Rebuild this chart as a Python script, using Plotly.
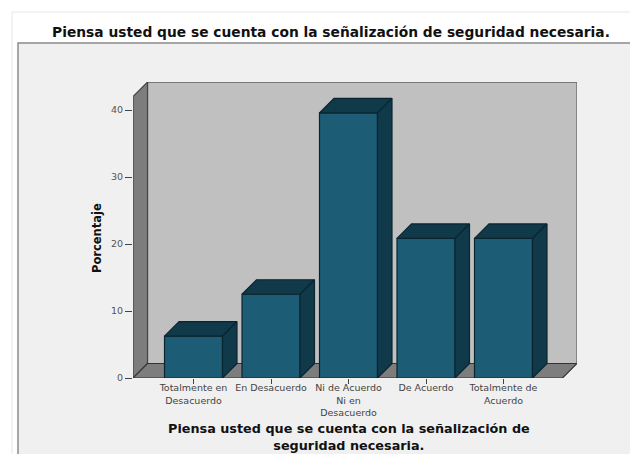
import plotly.graph_objects as go

categories = ["Totalmente en<br>Desacuerdo", "En Desacuerdo", "Ni de Acuerdo<br>Ni en<br>Desacuerdo",
              "De Acuerdo", "Totalmente de<br>Acuerdo"]
values = [6.25, 12.5, 39.58, 20.83, 20.83]
y_ticks = [0, 10, 20, 30, 40]
title_text = "Piensa usted que se cuenta con la señalización de seguridad necesaria."
x_title = "Piensa usted que se cuenta con la señalización de<br>seguridad necesaria."
y_title = "Porcentaje"

OFF = 8  # the page's own body margin
W, H = 638 - OFF, 454 - OFF
L, R, T, B = 133 - OFF, 61, 82 - OFF, 76
pw, ph = W - L - R, H - T - B
PX_X, PX_Y = 77.5, 6.7
x_min, x_max = -60.5 / PX_X, (577 - 193.5) / PX_X
y_max = ph / PX_Y
bar_w = 58 / PX_X
dx, dy = 14.5 / PX_X, 14.5 / PX_Y
wall_top = 42.0

FRONT, DARK, EDGE = "#1c5c74", "#10394a", "#0a2530"
SANS = "DejaVu Sans, Verdana, sans-serif"
xs = list(range(len(values)))


def px(x):
    return (x - OFF - L) / pw


def py(y):
    return (H - B - (y - OFF)) / ph


def poly(points):
    return "M" + "L".join(f"{a},{b}" for a, b in points) + "Z"


shapes = [
    dict(type="rect", xref="paper", yref="paper", x0=px(12), x1=px(660), y0=py(12), y1=py(480),
         fillcolor="#ffffff", line=dict(color="#e6e6e6", width=1), layer="below"),
    dict(type="rect", xref="paper", yref="paper", x0=px(18), x1=px(660), y0=py(43), y1=py(480),
         fillcolor="#f0f0f0", line=dict(color="#8a8a8a", width=1.5), layer="below"),
    dict(type="path", path=poly([(x_min + dx, dy), (x_max, dy), (x_max, wall_top + dy), (x_min + dx, wall_top + dy)]),
         fillcolor="#c0c0c0", line=dict(color="#606060", width=1.2), layer="below"),
    dict(type="path", path=poly([(x_min, 0), (x_min + dx, dy), (x_min + dx, wall_top + dy), (x_min, wall_top)]),
         fillcolor="#7d7d7d", line=dict(color="#444444", width=1.2), layer="below"),
    dict(type="path", path=poly([(x_min, 0), (x_max - dx, 0), (x_max, dy), (x_min + dx, dy)]),
         fillcolor="#7d7d7d", line=dict(color="#333333", width=1.2), layer="below"),
]

fig = go.Figure()
fig.add_trace(go.Bar(x=xs, y=values, width=bar_w, marker=dict(color=FRONT, line=dict(color=EDGE, width=1.2)),
                     hoverinfo="y", showlegend=False))

for x, v in zip(xs, values):
    a, b = x - bar_w / 2, x + bar_w / 2
    fig.add_trace(go.Scatter(x=[a, b, b + dx, a + dx, a], y=[v, v, v + dy, v + dy, v], mode="lines", fill="toself",
                             fillcolor=DARK, line=dict(color=EDGE, width=1.2), hoverinfo="skip", showlegend=False))
    fig.add_trace(go.Scatter(x=[b, b + dx, b + dx, b, b], y=[0, dy, v + dy, v, 0], mode="lines", fill="toself",
                             fillcolor=DARK, line=dict(color=EDGE, width=1.2), hoverinfo="skip", showlegend=False))

fig.update_layout(
    width=W, height=H, autosize=False,
    margin=dict(l=L, r=R, t=T, b=B, pad=0),
    paper_bgcolor="#ffffff", plot_bgcolor="rgba(0,0,0,0)",
    font=dict(family=SANS, color="#333333"),
    title=dict(text=title_text, x=(331 - OFF) / W, xanchor="center", y=1 - (32 - OFF) / H, yanchor="middle",
               font=dict(family=SANS, size=13.8, color="#111111", weight="bold")),
    shapes=shapes,
    annotations=[
        dict(text=x_title, xref="paper", yref="paper", x=px(349), y=py(437), xanchor="center", yanchor="middle",
             showarrow=False, font=dict(size=12.8, color="#111111", weight="bold"), align="center"),
        dict(text=y_title, xref="paper", yref="paper", x=px(97), y=py(238), xanchor="center", yanchor="middle",
             textangle=-90, showarrow=False, font=dict(size=11.5, color="#111111", weight="bold")),
    ],
    xaxis=dict(range=[x_min, x_max], tickmode="array", tickvals=xs, ticktext=categories, ticks="outside", ticklen=5,
               tickwidth=1, tickcolor="#444444", showgrid=False, zeroline=False, showline=False, tickangle=0,
               tickfont=dict(size=9.5, color="#444444"), ticklabelstandoff=-4),
    yaxis=dict(range=[0, y_max], tickmode="array", tickvals=y_ticks, ticks="outside", ticklen=7,
               tickwidth=1, tickcolor="#444444", showgrid=False, zeroline=False, showline=False,
               tickfont=dict(size=9.5, color="#555555")),
)

fig.write_html("out.html", config=dict(displayModeBar=False))
